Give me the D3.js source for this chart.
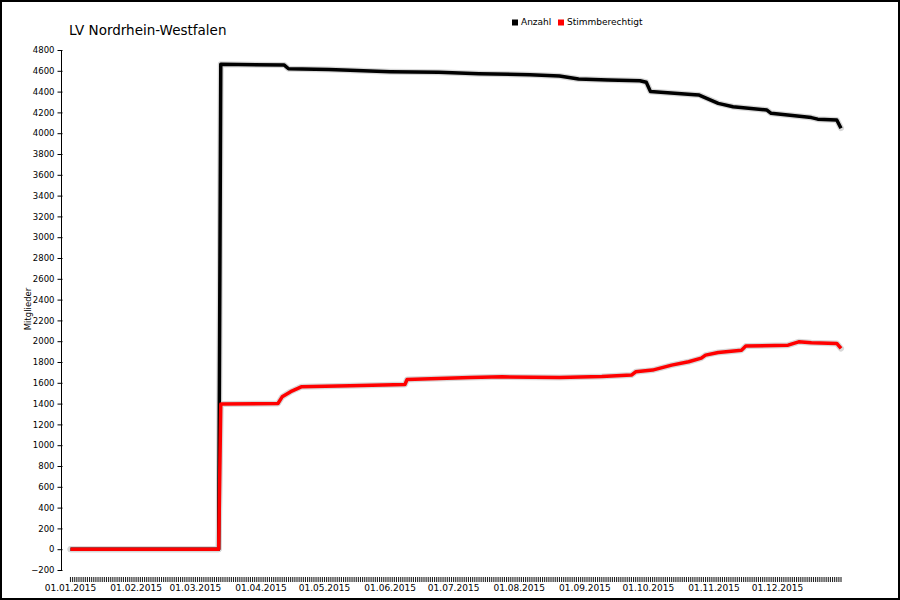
<!DOCTYPE html>
<html>
<head>
<meta charset="utf-8">
<script src="https://cdn.jsdelivr.net/npm/d3@7"></script>
<style>
  html, body { margin: 0; padding: 0; background: #fff; }
  svg { display: block; }
  text { font-family: "DejaVu Sans", Verdana, sans-serif; fill: #000; }
</style>
</head>
<body>
<svg id="chart" width="900" height="600"></svg>
<script>
// ---- Data ----
const title = "LV Nordrhein-Westfalen";
const yLabel = "Mitglieder";
const seriesNames = ["Anzahl", "Stimmberechtigt"];
const seriesColors = ["#000000", "#ff0000"];

const yTicks = [-200, 0, 200, 400, 600, 800, 1000, 1200, 1400, 1600, 1800, 2000, 2200,
  2400, 2600, 2800, 3000, 3200, 3400, 3600, 3800, 4000, 4200, 4400, 4600, 4800];
const xTickLabels = ["01.01.2015", "01.02.2015", "01.03.2015", "01.04.2015", "01.05.2015", "01.06.2015",
  "01.07.2015", "01.08.2015", "01.09.2015", "01.10.2015", "01.11.2015", "01.12.2015"];

// Anzahl (members) – key dates and values
const anzahlDates = ["2015-01-01", "2015-03-12", "2015-03-13", "2015-04-12", "2015-04-14", "2015-05-03",
  "2015-05-13", "2015-06-01", "2015-06-24", "2015-07-13", "2015-08-06", "2015-08-20", "2015-08-29",
  "2015-09-12", "2015-09-27", "2015-09-30", "2015-10-02", "2015-10-23", "2015-10-25", "2015-11-03",
  "2015-11-10", "2015-11-26", "2015-11-28", "2015-12-17", "2015-12-20", "2015-12-29", "2015-12-31"];
const anzahlValues = [0, 0, 4662, 4655, 4620, 4612, 4605, 4592, 4585, 4572, 4562, 4550, 4521,
  4511, 4505, 4490, 4400, 4370, 4367, 4287, 4255, 4223, 4191, 4150, 4135, 4127, 4048];

// Stimmberechtigt (entitled to vote) – key dates and values
const stimmDates = ["2015-01-01", "2015-03-12", "2015-03-13", "2015-04-09", "2015-04-11", "2015-04-15",
  "2015-04-20", "2015-05-13", "2015-06-08", "2015-06-09", "2015-07-09", "2015-07-24", "2015-08-20",
  "2015-09-09", "2015-09-23", "2015-09-25", "2015-10-03", "2015-10-12", "2015-10-20", "2015-10-26",
  "2015-10-28", "2015-11-03", "2015-11-14", "2015-11-16", "2015-12-06", "2015-12-11", "2015-12-17",
  "2015-12-29", "2015-12-31"];
const stimmValues = [0, 0, 1395, 1401, 1465, 1515, 1561, 1571, 1584, 1632, 1651, 1657, 1652,
  1661, 1674, 1706, 1722, 1770, 1802, 1837, 1866, 1892, 1914, 1953, 1962, 1994, 1984,
  1978, 1930];

// ---- Build ----
const parse = d3.timeParse("%Y-%m-%d");
const parseLabel = d3.timeParse("%d.%m.%Y");
const series = [
  anzahlDates.map((d, i) => ({ date: parse(d), value: anzahlValues[i] })),
  stimmDates.map((d, i) => ({ date: parse(d), value: stimmValues[i] }))
];

const svg = d3.select("#chart");
const W = 900, H = 600;

// Frame
svg.append("rect").attr("x", 1).attr("y", 1).attr("width", W - 2).attr("height", H - 2)
  .attr("fill", "#fff").attr("stroke", "#000").attr("stroke-width", 2);

const x = d3.scaleTime()
  .domain([parse("2015-01-01"), parse("2015-12-31")])
  .range([70.5, 841]);
const y = d3.scaleLinear().domain([-200, 4800]).range([570, 50]);

// Title
svg.append("text").attr("x", 69).attr("y", 35).attr("font-size", 13.5).text(title);

// Legend
const legend = svg.append("g").attr("transform", "translate(512,25)");
const legendItems = [{ name: seriesNames[0], color: seriesColors[0], x: 0 },
                     { name: seriesNames[1], color: seriesColors[1], x: 46 }];
legendItems.forEach(it => {
  legend.append("rect").attr("x", it.x).attr("y", -5.5).attr("width", 6).attr("height", 6).attr("fill", it.color);
  legend.append("text").attr("x", it.x + 9).attr("y", 0).attr("font-size", 9).text(it.name);
});

// Y axis
const yAxis = d3.axisLeft(y).tickValues(yTicks).tickSize(4).tickPadding(3).tickFormat(d3.format("d"));
const gy = svg.append("g").attr("transform", "translate(61.5,0)").call(yAxis);
gy.select(".domain").attr("d", `M0,${y(4800)}V${y(-200)}`).attr("stroke", "#000").attr("stroke-width", 1);
gy.selectAll(".tick line").attr("stroke", "#000").attr("x2", -4).attr("x1", 1);
gy.selectAll(".tick text").attr("font-size", 8.5).attr("font-family", "DejaVu Sans, Verdana, sans-serif").attr("fill", "#000");

// Y label
svg.append("text").attr("transform", "translate(31,309) rotate(-90)")
  .attr("text-anchor", "middle").attr("font-size", 8.5).text(yLabel);

// X axis – one tick per day, labels at month starts
const days = d3.timeDay.range(parse("2015-01-01"), d3.timeDay.offset(parse("2015-12-31"), 1));
const gx = svg.append("g").attr("transform", "translate(0,577)");
gx.selectAll("line.day").data(days).join("line").attr("class", "day")
  .attr("x1", d => x(d)).attr("x2", d => x(d))
  .attr("y1", 0).attr("y2", 5).attr("stroke", "#222").attr("stroke-width", 1.1);
gx.selectAll("text.lbl").data(xTickLabels).join("text").attr("class", "lbl")
  .attr("x", d => x(parseLabel(d))).attr("y", 14).attr("text-anchor", "middle")
  .attr("font-size", 9).text(d => d);

// Lines
const line = d3.line().x(d => x(d.date)).y(d => y(d.value)).curve(d3.curveLinear);
series.forEach((s, i) => {
  svg.append("path").datum(s).attr("d", line).attr("fill", "none")
    .attr("stroke", "#d8d8d8").attr("stroke-width", 6).attr("stroke-linejoin", "round").attr("stroke-linecap", "round");
});
series.forEach((s, i) => {
  svg.append("path").datum(s).attr("d", line).attr("fill", "none")
    .attr("stroke", seriesColors[i]).attr("stroke-width", 3.5).attr("stroke-linejoin", "round");
});
</script>
</body>
</html>
